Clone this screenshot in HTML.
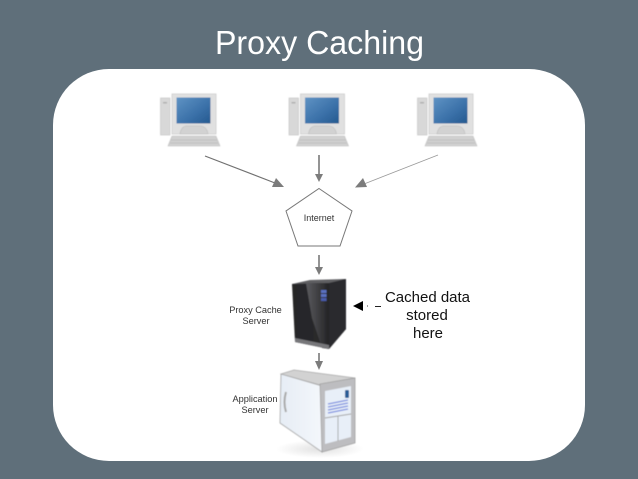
<!DOCTYPE html>
<html><head><meta charset="utf-8"><style>
html,body{margin:0;padding:0;background:#5f6f7a;width:638px;height:479px;overflow:hidden}
svg{display:block}
text{font-family:"Liberation Sans",sans-serif}
</style></head><body>
<svg width="638" height="479" viewBox="0 0 638 479" xmlns="http://www.w3.org/2000/svg">
<defs>
<filter id="soft" x="-10%" y="-10%" width="120%" height="120%"><feGaussianBlur stdDeviation=".45"/></filter>
<filter id="soft2" x="-10%" y="-10%" width="120%" height="120%"><feGaussianBlur stdDeviation=".7"/></filter>
<linearGradient id="scr" x1="0" y1="0" x2="1" y2="1"><stop offset="0" stop-color="#5f93c4"/><stop offset=".6" stop-color="#3a70a8"/><stop offset="1" stop-color="#24598f"/></linearGradient>
<linearGradient id="left" x1="0" y1="0" x2="1" y2="0"><stop offset="0" stop-color="#262628"/><stop offset=".75" stop-color="#2b2b2e"/><stop offset="1" stop-color="#131315"/></linearGradient>
<linearGradient id="right" x1="0" y1="0" x2="1" y2="0"><stop offset="0" stop-color="#5c5c60"/><stop offset="1" stop-color="#232325"/></linearGradient>
<linearGradient id="side" x1="0" y1="0" x2="1" y2="0"><stop offset="0" stop-color="#e6edf5"/><stop offset="1" stop-color="#f4f7fb"/></linearGradient>
<radialGradient id="sh"><stop offset="0" stop-color="#aaa" stop-opacity=".35"/><stop offset="1" stop-color="#aaa" stop-opacity="0"/></radialGradient>
<g id="pc" filter="url(#soft)">
<rect x="160.5" y="98" width="9.5" height="37" fill="#d8d8d8" stroke="#c8c8c8" stroke-width=".7"/>
<rect x="163" y="102" width="4" height="1.500" fill="#b0b0b0"/>
<rect x="172" y="94" width="44" height="40" fill="#e0e0e0" stroke="#cdcdcd" stroke-width=".8"/>
<rect x="176.500" y="97.500" width="34" height="26" fill="url(#scr)"/>
<path d="M180 134 Q181 127 186 126 L201 126 Q207 127 208 134 Z" fill="#d2d2d2" stroke="#bcbcbc" stroke-width=".6"/>
<path d="M172 136 L216 136 L220 146 L168 146 Z" fill="#d0d0d0" stroke="#c0c0c0" stroke-width=".6"/>
<path d="M171 140 H217 M170 143 H218" stroke="#bbb" stroke-width=".7"/>
</g>
</defs>

<text x="215" y="54" font-size="33" fill="#fff" textLength="209" lengthAdjust="spacingAndGlyphs">Proxy Caching</text>

<rect x="53" y="69" width="532" height="392" rx="56" ry="56" fill="#fff"/>

<use href="#pc"/>
<use href="#pc" x="128.500"/>
<use href="#pc" x="257"/>

<g stroke="#707070" fill="none">
<path d="M205 156 L275 183" stroke-width="1.200"/>
<path d="M319 155 L319 175" stroke-width="1.500"/>
<path d="M438 155 L364 184" stroke-width=".8" stroke="#999"/>
<path d="M319 255 L319 268" stroke-width="1.500"/>
<path d="M319 353 L319 362" stroke-width="1.500"/>
</g>
<g fill="#7c7c7c">
<polygon points="284,187 272,187 276,178"/>
<polygon points="319,182 315,174 323,174"/>
<polygon points="355,187.500 367,187 363,178"/>
<polygon points="319,275 315,267 323,267"/>
<polygon points="319,370 315,361 323,361"/>
</g>

<polygon points="319,188.500 352,211 340,246 298,246 286,211" fill="#fff" stroke="#777" stroke-width="1"/>
<text x="319" y="221" font-size="9" fill="#333" text-anchor="middle">Internet</text>

<!-- proxy server -->
<g filter="url(#soft)">
<polygon points="292,284 346,279 346,329 329,349 295,342" fill="url(#left)"/>
<polygon points="329,283 346,279 346,329 329,349" fill="#2a2a2d"/>
<polygon points="292,284 329,283 346,279 310,280" fill="#5e5e62"/>
<polygon points="306,283 329,283 329,349 322,348 312,318" fill="url(#right)"/>
<polygon points="295,342 329,349 329,345 295,338" fill="#77777a"/>
<rect x="321" y="290" width="5.500" height="3" fill="#5a6fc0"/>
<rect x="321" y="294" width="5.500" height="3" fill="#5a6fc0"/>
<rect x="321" y="298" width="5.500" height="3" fill="#4a5cab"/>
</g>

<!-- application server -->
<ellipse cx="320" cy="449" rx="44" ry="9" fill="url(#sh)"/>
<g filter="url(#soft)">
<polygon points="281,374 322,386 322,452 280,423" fill="url(#side)" stroke="#a5a5a5" stroke-width=".8"/>
<polygon points="281,374 294,370 355,378 320,385" fill="#d2d2d2" stroke="#a8a8a8" stroke-width=".7"/>
<polygon points="320,384 355,378 355,443 322,452" fill="#bdbdc0" stroke="#a0a0a0" stroke-width=".8"/>
<polygon points="325,391 351,386 351,437 325,444" fill="#e8eff8"/>
<path d="M286 392 Q283 402 286 412" stroke="#a9a9a9" stroke-width="2" fill="none"/>
<rect x="345" y="390" width="4" height="8" rx="1" fill="#2a5d96"/>
<g stroke="#7f92e0" stroke-width="1.400"><path d="M328 404 L348 400 M328 407 L348 403 M328 410 L348 406 M328 413 L348 409"/></g>
<path d="M325 418 L351 414 M338 416 V441" stroke="#a5a5a5" stroke-width=".9"/>
</g>

<!-- labels -->
<g font-size="9.200" fill="#333" text-anchor="middle">
<text x="255.500" y="313">Proxy Cache</text>
<text x="256" y="324">Server</text>
<text x="255" y="402">Application</text>
<text x="255" y="413">Server</text>
</g>
<polygon points="353,306 363,301 363,311" fill="#000"/>
<rect x="367" y="305.500" width="1" height="1" fill="#444"/>
<rect x="375" y="306" width="6" height="1" fill="#222"/>
<g font-size="15" fill="#111" text-anchor="middle">
<text x="427.500" y="302">Cached data</text>
<text x="427" y="320">stored</text>
<text x="428" y="338">here</text>
</g>
</svg>
</body></html>
